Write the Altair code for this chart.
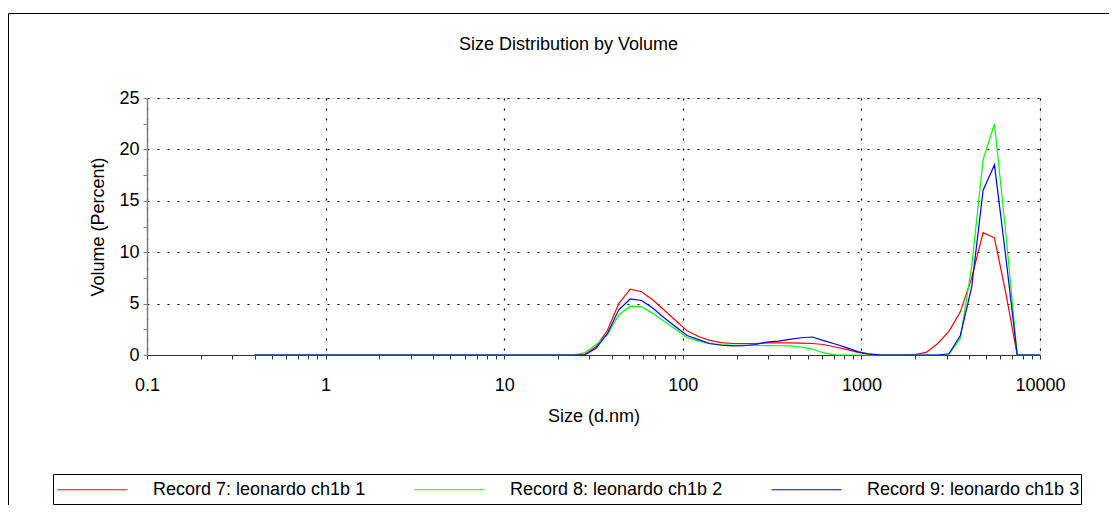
import altair as alt
import pandas as pd

# ---- data ----
sizes = [0.4, 0.4632, 0.5365, 0.6213, 0.7195, 0.8332, 0.9649, 1.117, 1.294, 1.499,
         1.736, 2.01, 2.328, 2.696, 3.122, 3.615, 4.187, 4.849, 5.615, 6.503,
         7.531, 8.721, 10.1, 11.7, 13.54, 15.69, 18.17, 21.04, 24.36, 28.21,
         32.67, 37.84, 43.82, 50.75, 58.77, 68.06, 78.82, 91.28, 105.7, 122.4,
         141.8, 164.2, 190.1, 220.2, 255.0, 295.3, 342.0, 396.1, 458.7, 531.2,
         615.1, 712.4, 825.0, 955.4, 1106, 1281, 1484, 1718, 1990, 2305,
         2669, 3091, 3580, 4145, 4801, 5560, 6439, 7456, 8635, 10000]

record7 = [0] * 28 + [0, 0.05, 0.8, 2.4, 5.0, 6.4, 6.15, 5.35, 4.35, 3.35,
                      2.35, 1.8, 1.42, 1.2, 1.12, 1.1, 1.12, 1.17, 1.18, 1.17,
                      1.16, 1.12, 1.02, 0.78, 0.55, 0.26, 0.05, 0, 0, 0,
                      0.05, 0.25, 1.1, 2.3, 4.2, 7.5, 11.9, 11.4, 6.0, 0,
                      0, 0]
record8 = [0] * 28 + [0, 0.2, 1.0, 1.95, 3.9, 4.75, 4.7, 4.05, 3.25, 2.5,
                      1.7, 1.35, 1.1, 1.0, 0.95, 0.93, 0.93, 0.92, 0.9, 0.88,
                      0.78, 0.58, 0.2, 0.02, 0, 0, 0, 0, 0, 0,
                      0, 0, 0, 0.05, 1.6, 8.6, 19.0, 22.5, 11.8, 0,
                      0, 0]
record9 = [0] * 28 + [0, 0, 0.65, 2.1, 4.4, 5.45, 5.3, 4.55, 3.6, 2.75,
                      1.9, 1.5, 1.12, 0.95, 0.88, 0.9, 1.02, 1.25, 1.35, 1.52,
                      1.68, 1.75, 1.4, 1.07, 0.72, 0.33, 0.1, 0, 0, 0,
                      0, 0, 0, 0.12, 1.9, 6.6, 16.0, 18.5, 9.5, 0,
                      0, 0]

series_names = ["Record 7: leonardo ch1b 1",
                "Record 8: leonardo ch1b 2",
                "Record 9: leonardo ch1b 3"]
series_colors = ["#ff0000", "#00ff00", "#0000ff"]

x_major = [0.1, 1, 10, 100, 1000, 10000]
x_minor = [m * 10 ** k for k in range(-1, 4) for m in range(2, 10)]
x_ticks = sorted(x_major + x_minor)
y_ticks = [0, 2.5, 5, 7.5, 10, 12.5, 15, 17.5, 20, 22.5, 25]

FONT = "Liberation Sans"

rows = []
for name, vals in zip(series_names, [record7, record8, record9]):
    for s, v in zip(sizes, vals):
        rows.append({"size": s, "volume": v, "series": name})
df = pd.DataFrame(rows)

is_major_x = "abs(log(datum.value)/LN10 - round(log(datum.value)/LN10)) < 0.001"
is_major_y = "datum.value % 5 == 0"

lines = alt.Chart(df).mark_line(strokeWidth=1.2).encode(
    x=alt.X("size:Q",
            scale=alt.Scale(type="log", domain=[0.1, 10000], nice=False),
            axis=alt.Axis(values=x_ticks, title="Size (d.nm)",
                          labelExpr=f"{is_major_x} ? format(datum.value, '~g') : ''",
                          labelOverlap=False, labelFlush=False,
                          grid=True,
                          gridOpacity={"condition": {"test": is_major_x, "value": 1}, "value": 0},
                          gridColor="black", gridDash=[2, 8], gridWidth=1.2,
                          domainColor="#333333", domainWidth=1,
                          tickColor="#333333", tickSize=4,
                          labelPadding=17, titlePadding=13,
                          labelFont=FONT, labelFontSize=18, labelColor="black",
                          titleFont=FONT, titleFontSize=18, titleFontWeight="normal",
                          titleColor="black")),
    y=alt.Y("volume:Q",
            scale=alt.Scale(domain=[0, 25], nice=False),
            axis=alt.Axis(values=y_ticks, title="Volume (Percent)",
                          labelExpr=f"{is_major_y} ? datum.label : ''",
                          labelOverlap=False, labelFlush=False,
                          grid=True,
                          gridOpacity={"condition": {"test": is_major_y, "value": 1}, "value": 0},
                          gridColor="black", gridDash=[2, 8], gridWidth=1.2,
                          domainColor="#808080", domainWidth=1.5,
                          tickColor="#808080", tickSize=4,
                          labelPadding=4, titlePadding=11,
                          labelFont=FONT, labelFontSize=18, labelColor="black",
                          titleFont=FONT, titleFontSize=18, titleFontWeight="normal",
                          titleColor="black")),
    color=alt.Color("series:N",
                    scale=alt.Scale(domain=series_names, range=series_colors),
                    legend=alt.Legend(title=None, orient="none", legendX=-90, legendY=356,
                                      direction="horizontal", columns=3, gridAlign="all",
                                      symbolType="stroke", symbolSize=4900,
                                      symbolStrokeWidth=1, symbolOffset=0,
                                      labelOffset=25, columnPadding=46, padding=0,
                                      labelLimit=400, labelFont=FONT, labelFontSize=18,
                                      labelColor="black")),
)

deco = pd.DataFrame({"k": [0]})
frame_top = alt.Chart(deco).mark_rule(color="black", strokeWidth=1).encode(
    x=alt.value(-138.5), x2=alt.value(1000), y=alt.value(-84.5))
frame_left = alt.Chart(deco).mark_rule(color="black", strokeWidth=1).encode(
    x=alt.value(-138.5), y=alt.value(-84.5), y2=alt.value(450))
legend_box = alt.Chart(deco).mark_rect(fillOpacity=0, stroke="black", strokeWidth=1).encode(
    x=alt.value(-93.5), x2=alt.value(934.5), y=alt.value(376.5), y2=alt.value(406.5))

chart = alt.layer(frame_top, frame_left, legend_box, lines).properties(
    width=893, height=257,
    autosize=alt.AutoSizeParams(type="none"),
    padding={"left": 139, "top": 90, "right": 69, "bottom": 150},
    title=alt.TitleParams(text="Size Distribution by Volume", font=FONT, fontSize=18,
                          fontWeight="normal", color="black", anchor="middle",
                          frame="group", dx=-25, offset=-41),
).configure_view(stroke=None).configure(background="white")

chart.save("out.html", embed_options={"renderer": "svg", "actions": False})
